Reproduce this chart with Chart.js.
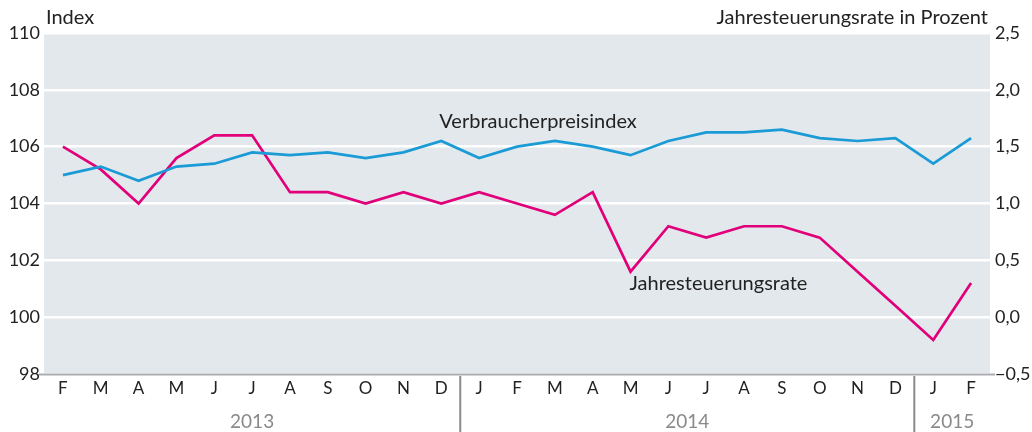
<!DOCTYPE html>
<html>
<head>
<meta charset="utf-8">
<script src="https://cdn.jsdelivr.net/npm/chart.js@4"></script>
<style>
  html, body { margin: 0; padding: 0; background: #fff; }
  #wrap { width: 1032px; height: 432px; }
</style>
</head>
<body>
<div id="wrap"><canvas id="plot1" width="1032" height="432"></canvas></div>
<script>
// Monate Feb 2013 bis Feb 2015
let monate = ["F","M","A","M","J","J","A","S","O","N","D",
              "J","F","M","A","M","J","J","A","S","O","N","D",
              "J","F"];

// Jahre: Beschriftung, erster Index, Anzahl Monate
let jahre = [
  { label: "2013", start: 0, anzahl: 11 },
  { label: "2014", start: 11, anzahl: 12 },
  { label: "2015", start: 23, anzahl: 2 },
];

// Verbraucherpreisindex (linke Achse)
let vpi = [105.0, 105.3, 104.8, 105.3, 105.4, 105.8, 105.7, 105.8, 105.6, 105.8, 106.2,
           105.6, 106.0, 106.2, 106.0, 105.7, 106.2, 106.5, 106.5, 106.6, 106.3, 106.2, 106.3,
           105.4, 106.3];

// Jahresteuerungsrate in Prozent (rechte Achse)
let rate = [1.5, 1.3, 1.0, 1.4, 1.6, 1.6, 1.1, 1.1, 1.0, 1.1, 1.0,
            1.1, 1.0, 0.9, 1.1, 0.4, 0.8, 0.7, 0.8, 0.8, 0.7, 0.4, 0.1,
            -0.2, 0.3];

let schrift = "Lato, 'Noto Sans', sans-serif";
let farbeVpi = "#1a9bd6";
let farbeRate = "#e2007a";

// Hintergrund, Achsenlinie, Jahre und Texte
let zeichnen = {
  id: "zeichnen",
  beforeDraw: (chart) => {
    let ctx = chart.ctx;
    let a = chart.chartArea;
    ctx.save();
    ctx.fillStyle = "#e3e8ec";
    ctx.fillRect(a.left, a.top, a.right - a.left, a.bottom - a.top);
    ctx.restore();
  },
  afterDatasetsDraw: (chart) => {
    let ctx = chart.ctx;
    let a = chart.chartArea;
    let x = chart.scales.x;
    let yL = chart.scales.y;
    let yR = chart.scales.y2;
    ctx.save();

    // untere Achsenlinie
    ctx.strokeStyle = "#a9adb1";
    ctx.lineWidth = 2;
    ctx.beginPath();
    ctx.moveTo(a.left - 5, a.bottom + 0.5);
    ctx.lineTo(a.right + 5, a.bottom + 0.5);
    ctx.stroke();

    // Jahrestrenner und Jahreszahlen
    let schritt = x.getPixelForValue(1) - x.getPixelForValue(0);
    ctx.font = "19px " + schrift;
    ctx.fillStyle = "#8a8a8a";
    ctx.textAlign = "center";
    ctx.textBaseline = "middle";
    jahre.forEach((j, i) => {
      let x0 = x.getPixelForValue(j.start) - schritt / 2;
      let x1 = x.getPixelForValue(j.start + j.anzahl - 1) + schritt / 2;
      if (i > 0) {
        ctx.strokeStyle = "#8a8a8a";
        ctx.lineWidth = 2;
        ctx.beginPath();
        ctx.moveTo(x0, a.bottom + 2);
        ctx.lineTo(x0, chart.height);
        ctx.stroke();
      }
      ctx.fillText(j.label, (x0 + x1) / 2, a.bottom + 48);
    });

    // Achsentitel
    ctx.fillStyle = "#222";
    ctx.font = "20px " + schrift;
    ctx.textAlign = "left";
    ctx.fillText("Index", a.left + 2, 18);
    ctx.textAlign = "right";
    ctx.fillText("Jahresteuerungsrate in Prozent", a.right - 2, 18);

    // Reihenbeschriftungen
    ctx.textAlign = "left";
    ctx.fillText("Verbraucherpreisindex", x.getPixelForValue(10) - 2, yL.getPixelForValue(106.9));
    ctx.fillText("Jahresteuerungsrate", x.getPixelForValue(15) - 1, yR.getPixelForValue(0.3));
    ctx.restore();
  },
};

let config = {
  type: "line",
  data: {
    labels: monate,
    datasets: [
      {
        label: "Verbraucherpreisindex",
        data: vpi,
        yAxisID: "y",
        borderColor: farbeVpi,
        borderWidth: 2.7,
        pointRadius: 0,
        tension: 0,
      },
      {
        label: "Jahresteuerungsrate",
        data: rate,
        yAxisID: "y2",
        borderColor: farbeRate,
        borderWidth: 2.7,
        pointRadius: 0,
        tension: 0,
      },
    ],
  },
  options: {
    responsive: false,
    animation: false,
    layout: { padding: { top: 33, left: 0, right: 0, bottom: 0 } },
    plugins: { legend: { display: false }, tooltip: { enabled: false } },
    scales: {
      x: {
        offset: true,
        grid: { display: false, drawTicks: false },
        border: { display: false },
        ticks: {
          color: "#222",
          font: { family: schrift, size: 17 },
          padding: 4,
          maxRotation: 0,
          autoSkip: false,
        },
        afterFit: (s) => { s.height = 58; },
      },
      y: {
        position: "left",
        min: 98,
        max: 110,
        grid: { color: "#ffffff", lineWidth: 2.5, drawTicks: false },
        border: { display: false },
        ticks: {
          stepSize: 2,
          color: "#222",
          font: { family: schrift, size: 18 },
          padding: 4,
        },
        afterFit: (s) => { s.width = 44; },
      },
      y2: {
        position: "right",
        min: -0.5,
        max: 2.5,
        grid: { display: false, drawTicks: false },
        border: { display: false },
        ticks: {
          stepSize: 0.5,
          color: "#222",
          font: { family: schrift, size: 18 },
          padding: 5,
          callback: (v) => (v < 0 ? "\u2212" : "") + Math.abs(v).toFixed(1).replace(".", ","),
        },
        afterFit: (s) => { s.width = 42; },
      },
    },
  },
  plugins: [zeichnen],
};

let chart1 = new Chart(document.getElementById("plot1"), config);
</script>
</body>
</html>
